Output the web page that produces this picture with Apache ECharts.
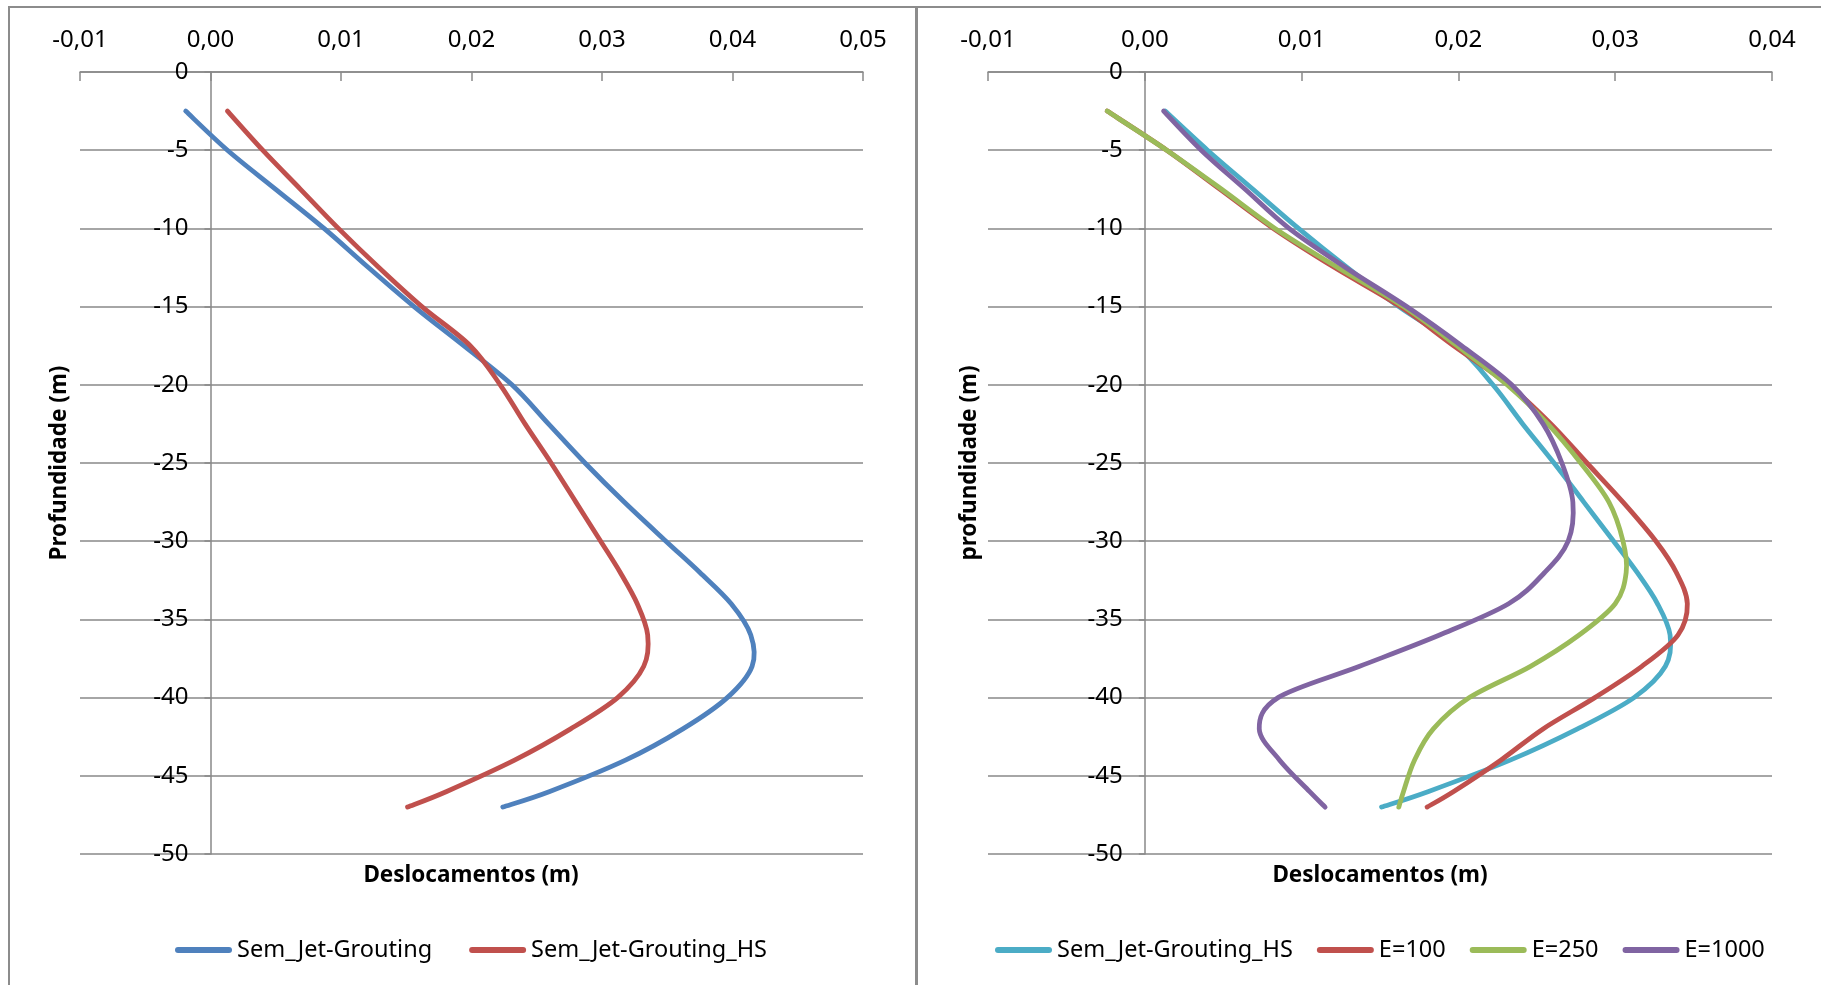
<!DOCTYPE html>
<html>
<head>
<meta charset="utf-8">
<title>Deslocamentos vs profundidade</title>
<script src="https://cdn.jsdelivr.net/npm/echarts@6/dist/echarts.min.js"></script>
<style>
  html, body { margin: 0; padding: 0; background: #fff; }
  #wrap { position: relative; width: 1821px; height: 985px; overflow: hidden; }
  .panel { position: absolute; top: 0; height: 985px; }
  #left { left: 0; width: 916px; }
  #right { left: 916px; width: 905px; }
  .frame { position: absolute; border: 2px solid #8c8c8c; box-sizing: border-box; }
</style>
</head>
<body>
<div id="wrap">
  <div class="frame" style="left:8px; top:6px; width:910px; height:1000px;"></div>
  <div class="frame" style="left:915px; top:6px; width:960px; height:1000px;"></div>
  <div id="left" class="panel"></div>
  <div id="right" class="panel"></div>
</div>
<script>
// Profundidade (m) shared by every series
const depth = [-2.5, -5, -7.5, -10, -12.5, -15, -17.5, -20, -22.5, -25, -27.5, -30,
               -32, -34, -36, -38, -40, -42, -44, -46, -47];

// Deslocamentos (m) per depth
const semJetGrouting   = [-0.0019, 0.0013, 0.0050, 0.0087, 0.0121, 0.0156, 0.0194, 0.0231, 0.0259, 0.0287, 0.0317, 0.0349,
                          0.0375, 0.0399, 0.0414, 0.0415, 0.0396, 0.0362, 0.0318, 0.0260, 0.0224];
const semJetGroutingHS = [0.0013, 0.0040, 0.0069, 0.0098, 0.0129, 0.0162, 0.0199, 0.0222, 0.0241, 0.0261, 0.0280, 0.0299,
                          0.0314, 0.0327, 0.0335, 0.0332, 0.0312, 0.0276, 0.0233, 0.0181, 0.0151];
const e100             = [-0.0024, 0.0014, 0.0048, 0.0082, 0.0121, 0.0163, 0.0197, 0.0232, 0.0259, 0.0282, 0.0305, 0.0326,
                          0.0339, 0.0346, 0.0340, 0.0317, 0.0287, 0.0254, 0.0227, 0.0197, 0.0180];
const e250             = [-0.0024, 0.0014, 0.0049, 0.0083, 0.0123, 0.0165, 0.0199, 0.0231, 0.0257, 0.0278, 0.0296, 0.0305,
                          0.0307, 0.0300, 0.0277, 0.0246, 0.0207, 0.0184, 0.0172, 0.0165, 0.0162];
const e1000            = [0.0012, 0.0036, 0.0064, 0.0092, 0.0128, 0.0167, 0.0202, 0.0234, 0.0254, 0.0266, 0.0273, 0.0270,
                          0.0255, 0.0232, 0.0188, 0.0137, 0.0085, 0.0073, 0.0086, 0.0105, 0.0115];

const xTicksLeft  = { min: -0.01, max: 0.05, step: 0.01 };
const xTicksRight = { min: -0.01, max: 0.04, step: 0.01 };
const yTicks      = { min: -50, max: 0, step: 5 };

const FONT = '"Noto Sans", "Open Sans", sans-serif';
const GRID_COLOR = '#898989';
const GRID_TOP = 72, GRID_HEIGHT = 782;
const LINE_WIDTH = 4.8;

function pairs(xs) { return xs.map((x, i) => [x, depth[i]]); }

function fmtX(v) { return v.toFixed(2).replace('.', ','); }

// Catmull-Rom curve through the projected points, as cubic Bezier segments
function splinePath(pts) {
  const n = pts.length;
  const p = i => pts[Math.max(0, Math.min(n - 1, i))];
  let d = 'M' + pts[0][0] + ',' + pts[0][1];
  for (let i = 0; i < n - 1; i++) {
    const p0 = p(i - 1), p1 = p(i), p2 = p(i + 1), p3 = p(i + 2);
    const c1x = p1[0] + (p2[0] - p0[0]) / 6, c1y = p1[1] + (p2[1] - p0[1]) / 6;
    const c2x = p2[0] - (p3[0] - p1[0]) / 6, c2y = p2[1] - (p3[1] - p1[1]) / 6;
    d += ' C' + c1x + ',' + c1y + ' ' + c2x + ',' + c2y + ' ' + p2[0] + ',' + p2[1];
  }
  return d;
}

function curveSeries(s) {
  const data = pairs(s.values);
  return {
    name: s.name, type: 'custom', coordinateSystem: 'cartesian2d',
    data: data, encode: { x: 0, y: 1 }, clip: false, silent: true,
    itemStyle: { color: s.color },
    renderItem: (params, api) => {
      if (params.dataIndex !== 0) return null;
      const pts = data.map(d => api.coord(d));
      return {
        type: 'path', silent: true,
        shape: { pathData: splinePath(pts) },
        style: { fill: null, stroke: s.color, lineWidth: LINE_WIDTH, lineCap: 'round', lineJoin: 'round' }
      };
    }
  };
}

function buildOption(cfg) {
  // the depth axis is drawn at x = 0, inside the plot area
  const zeroOffset = -cfg.gridWidth * (0 - cfg.xt.min) / (cfg.xt.max - cfg.xt.min);
  return {
    animation: false,
    textStyle: { fontFamily: FONT },
    grid: { left: cfg.gridLeft, top: GRID_TOP, width: cfg.gridWidth, height: GRID_HEIGHT, containLabel: false },
    xAxis: {
      type: 'value', position: 'top',
      min: cfg.xt.min, max: cfg.xt.max, interval: cfg.xt.step,
      axisLine: { show: true, onZero: false, lineStyle: { color: GRID_COLOR, width: 1.5 } },
      axisTick: { show: true, inside: true, length: 9, lineStyle: { color: GRID_COLOR, width: 1.5 } },
      axisLabel: { formatter: fmtX, fontSize: 24, color: '#000', margin: 20, fontFamily: FONT },
      splitLine: { show: false }
    },
    yAxis: {
      type: 'value', position: 'left', offset: zeroOffset,
      min: yTicks.min, max: yTicks.max, interval: yTicks.step,
      axisLine: { show: true, onZero: false, lineStyle: { color: GRID_COLOR, width: 1.5 } },
      axisTick: { show: true, length: 6, lineStyle: { color: GRID_COLOR, width: 1.5 } },
      axisLabel: { fontSize: 24, color: '#000', margin: 22, fontFamily: FONT },
      splitLine: { show: true, lineStyle: { color: GRID_COLOR, width: 1.5 } }
    },
    legend: {
      left: cfg.legendLeft, top: 933,
      icon: 'path://M3,0 L54,0 A3,3 0 0 1 54,6 L3,6 A3,3 0 0 1 3,0 Z',
      itemWidth: 57, itemHeight: 6, itemGap: cfg.legendGap,
      textStyle: { fontSize: 23.5, color: '#000', fontFamily: FONT },
      data: cfg.series.map(s => s.name)
    },
    graphic: [
      { type: 'text', x: cfg.xNameX, y: 876,
        style: { text: 'Deslocamentos (m)', fontSize: 22.5, fontWeight: 'bold', fontFamily: FONT,
                 fill: '#000', align: 'center', verticalAlign: 'middle' } },
      { type: 'text', x: cfg.yNameX, y: 463, rotation: Math.PI / 2,
        style: { text: cfg.yName, fontSize: 22.5, fontWeight: 'bold', fontFamily: FONT,
                 fill: '#000', align: 'center', verticalAlign: 'middle' } }
    ],
    series: cfg.series.map(curveSeries)
  };
}

const left = echarts.init(document.getElementById('left'), null, { renderer: 'canvas' });
left.setOption(buildOption({
  gridLeft: 80, gridWidth: 783, xt: xTicksLeft, legendLeft: 170, legendGap: 37,
  xNameX: 471, yNameX: 60, yName: 'Profundidade (m)',
  series: [
    { name: 'Sem_Jet-Grouting', values: semJetGrouting, color: '#4F81BD' },
    { name: 'Sem_Jet-Grouting_HS', values: semJetGroutingHS, color: '#C0504D' }
  ]
}));

const right = echarts.init(document.getElementById('right'), null, { renderer: 'canvas' });
right.setOption(buildOption({
  gridLeft: 72, gridWidth: 784, xt: xTicksRight, legendLeft: 74, legendGap: 24,
  xNameX: 464, yNameX: 54, yName: 'profundidade (m)',
  series: [
    { name: 'Sem_Jet-Grouting_HS', values: semJetGroutingHS, color: '#4BACC6' },
    { name: 'E=100', values: e100, color: '#C0504D' },
    { name: 'E=250', values: e250, color: '#9BBB59' },
    { name: 'E=1000', values: e1000, color: '#8064A2' }
  ]
}));
</script>
</body>
</html>
